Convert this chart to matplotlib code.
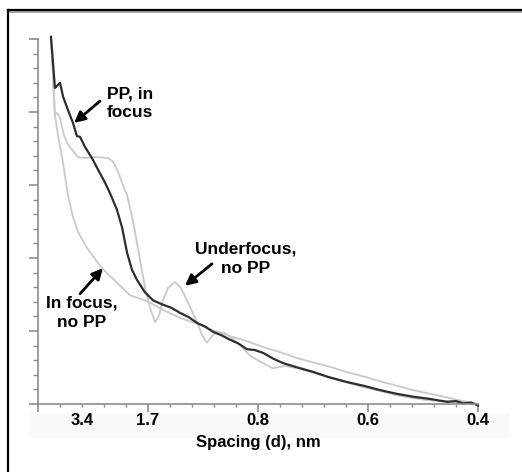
import matplotlib
matplotlib.use("Agg")
import matplotlib.pyplot as plt
from matplotlib.lines import Line2D
from matplotlib.patches import Rectangle
from matplotlib.ticker import FixedLocator, FixedFormatter

# x runs over 20 frequency bins (0 .. 20), y is relative amplitude (0 .. 5)
pp_focus_x = [0.59, 0.77, 1.0, 1.14, 1.36, 1.59, 1.77, 1.91, 2.14, 2.45, 2.82,
              3.05, 3.27, 3.59, 3.82, 4.05, 4.27, 4.5, 4.86, 5.23, 5.68, 6.05,
              6.45, 6.85, 7.23, 7.6, 7.95, 8.35, 8.73, 9.1, 9.5, 9.85, 10.23,
              10.7, 11.14, 11.8, 12.5, 13.2, 14.05, 14.8, 15.55, 16.3, 17.05,
              17.8, 18.59, 19.0, 19.32, 19.7, 20.0]
pp_focus_y = [5.03, 4.33, 4.40, 4.21, 4.03, 3.85, 3.67, 3.66, 3.52, 3.37, 3.16,
              3.03, 2.89, 2.66, 2.42, 2.07, 1.84, 1.70, 1.53, 1.42, 1.36, 1.32,
              1.25, 1.19, 1.11, 1.06, 0.99, 0.94, 0.88, 0.83, 0.75, 0.74, 0.70,
              0.62, 0.56, 0.50, 0.44, 0.37, 0.30, 0.25, 0.19, 0.14, 0.10,
              0.07, 0.03, 0.04, 0.01, 0.02, -0.02]

focus_x = [0.59, 0.68, 0.77, 0.91, 1.14, 1.36, 1.59, 1.82, 2.14, 2.36, 2.91,
           3.59, 4.18, 4.95, 5.68, 6.45, 7.23, 7.95, 8.73, 9.5, 10.23, 11.0,
           11.77, 12.5, 13.27, 14.0, 14.77, 15.55, 16.32, 17.05, 17.82, 18.6,
           19.32, 20.0]
focus_y = [5.03, 4.50, 3.96, 3.68, 3.30, 2.86, 2.56, 2.36, 2.18, 2.08, 1.86,
           1.66, 1.49, 1.41, 1.29, 1.18, 1.10, 1.01, 0.93, 0.86, 0.78, 0.71,
           0.63, 0.57, 0.51, 0.44, 0.38, 0.31, 0.25, 0.19, 0.14, 0.09,
           0.04, 0.0]

under_x = [0.59, 0.68, 0.77, 0.86, 1.0, 1.18, 1.32, 1.45, 1.64, 1.82, 2.09,
           2.5, 2.82, 3.18, 3.41, 3.64, 3.86, 4.05, 4.23, 4.41, 4.64, 4.86,
           5.09, 5.32, 5.5, 5.68, 5.91, 6.23, 6.5, 6.77, 7.23, 7.45, 7.68,
           7.91, 8.14, 8.5, 8.82, 9.18, 9.64, 10.09, 10.68, 11.23, 11.77,
           12.5, 13.27, 14.0, 14.77, 15.55, 16.32, 17.05, 17.82, 18.95, 20.0]
under_y = [5.03, 4.50, 3.96, 3.99, 3.92, 3.68, 3.58, 3.52, 3.45, 3.38, 3.37,
           3.38, 3.38, 3.37, 3.32, 3.18, 3.00, 2.86, 2.63, 2.36, 1.97, 1.60,
           1.32, 1.12, 1.21, 1.42, 1.59, 1.67, 1.59, 1.42, 1.12, 0.95, 0.84,
           0.93, 0.99, 0.97, 0.90, 0.81, 0.66, 0.58, 0.49, 0.52, 0.49,
           0.43, 0.36, 0.30, 0.23, 0.18, 0.12, 0.08, 0.05, 0.03, -0.01]

tick_pos = [0, 5, 10, 15, 20]
tick_labels = ["", "1.7", "0.8", "0.6", "0.4"]
minor_labels = {2: "3.4"}

AXIS_GREY = "#8c8c8c"
LIGHT = "#c9c9c9"
DARK = "#2e2e2e"

plt.rcParams["font.family"] = ["Liberation Sans", "DejaVu Sans"]
plt.rcParams["font.weight"] = "bold"

fig = plt.figure(figsize=(5.22, 4.72), dpi=100)
W, H = 522, 472
ax = fig.add_axes([38 / W, (H - 404) / H, 440 / W, 365 / H])

# outer frame, cut at the right and bottom
fig.add_artist(Rectangle((30 / W, (H - 437) / H), 478 / W, 24 / H,
                         transform=fig.transFigure, color="#f9f9f9", zorder=0))
fig.add_artist(Line2D([8 / W, 1], [(H - 12) / H] * 2, color="#9a9a9a", lw=1.2))
fig.add_artist(Line2D([8 / W, 1], [(H - 10) / H] * 2, color="black", lw=1.6))
fig.add_artist(Line2D([8 / W] * 2, [0, (H - 10) / H], color="black", lw=1.6))

ax.patch.set_alpha(0)
ax.plot(focus_x, focus_y, color=LIGHT, lw=1.3, clip_on=False)
ax.plot(under_x, under_y, color=LIGHT, lw=1.3, clip_on=False)
ax.plot(pp_focus_x, pp_focus_y, color=DARK, lw=1.6, clip_on=False)

ax.set_xlim(0, 20)
ax.set_ylim(0, 5)
for s in ["top", "right"]:
    ax.spines[s].set_visible(False)
for s in ["left", "bottom"]:
    ax.spines[s].set_color(AXIS_GREY)
    ax.spines[s].set_linewidth(1.2)

ax.xaxis.set_major_locator(FixedLocator(tick_pos))
ax.xaxis.set_major_formatter(FixedFormatter(tick_labels))
minor = [i for i in range(21) if i % 5]
ax.xaxis.set_minor_locator(FixedLocator(minor))
ax.xaxis.set_minor_formatter(FixedFormatter([minor_labels.get(i, "") for i in minor]))
ax.tick_params(axis="x", which="major", length=5.8, width=1.2, color=AXIS_GREY,
               pad=1.0, labelsize=12)
ax.tick_params(axis="x", which="minor", length=2.2, width=1.0, color=AXIS_GREY,
               pad=4.6, labelsize=12)

ax.yaxis.set_major_locator(FixedLocator([0, 1, 2, 3, 4, 5]))
ax.yaxis.set_minor_locator(FixedLocator([i / 5 for i in range(26) if i % 5]))
ax.tick_params(axis="y", which="major", length=6.5, width=1.2, color=AXIS_GREY,
               labelleft=False)
ax.tick_params(axis="y", which="minor", length=3.6, width=1.0, color=AXIS_GREY,
               labelleft=False)

ax.set_xlabel("Spacing (d), nm", fontsize=12, fontweight="bold", labelpad=5)

arrow = dict(arrowstyle="-|>", color="black", lw=2.0, mutation_scale=16,
             shrinkA=0, shrinkB=0)
ax.text(3.14, 4.12, "PP, in\nfocus", fontsize=12.5, ha="left", va="center",
        linespacing=1.3)
ax.annotate("", xy=(1.64, 3.85), xytext=(2.82, 4.15), arrowprops=arrow)

ax.text(9.45, 1.99, "Underfocus,\nno PP", fontsize=12.5, ha="center", va="center",
        linespacing=1.3)
ax.annotate("", xy=(6.68, 1.62), xytext=(7.91, 1.92), arrowprops=arrow)

ax.text(2.0, 1.25, "In focus,\nno PP", fontsize=12.5, ha="center", va="center",
        linespacing=1.3)
ax.annotate("", xy=(2.95, 1.86), xytext=(1.91, 1.51), arrowprops=arrow)

fig.savefig("out.png", dpi=100)
